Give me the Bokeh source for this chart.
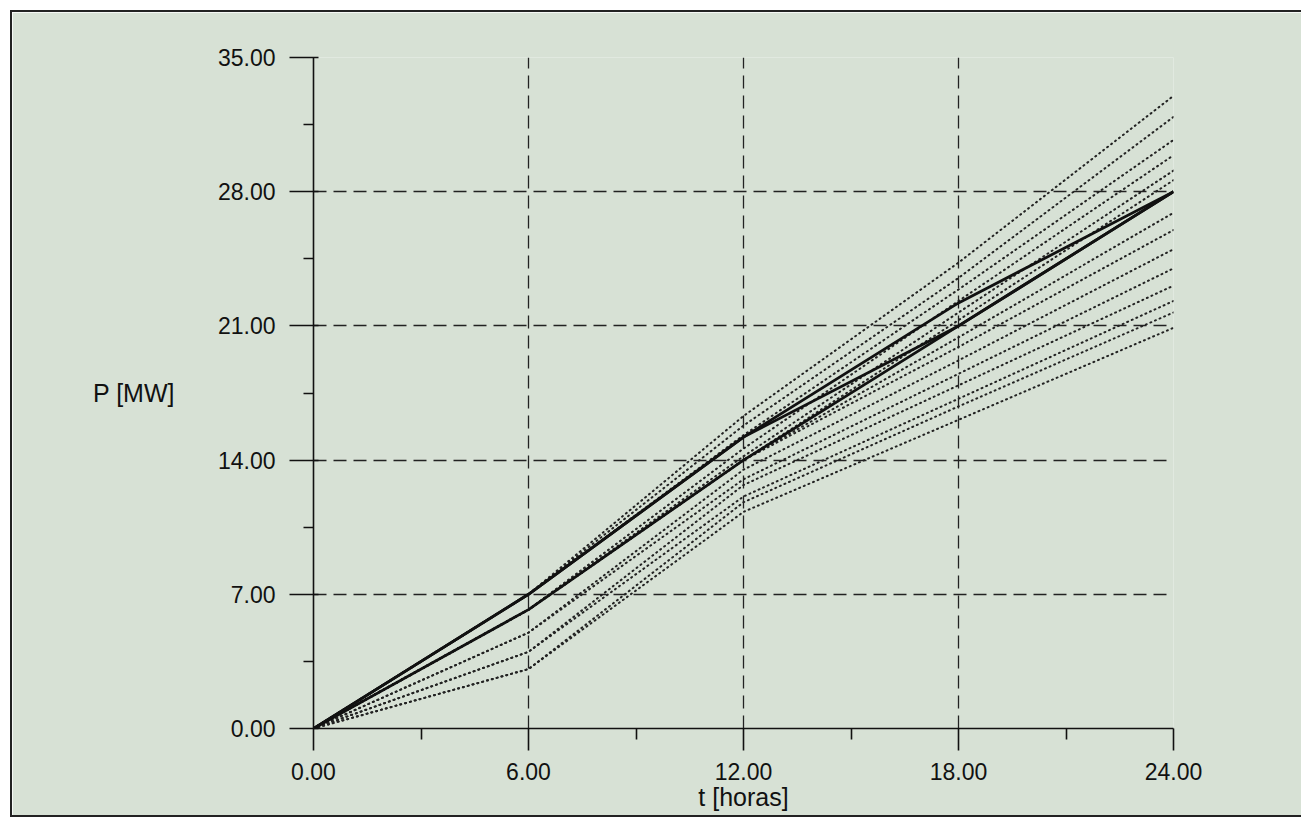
from bokeh.plotting import figure
from bokeh.models import Range1d, FixedTicker, PrintfTickFormatter
from bokeh.embed import file_html
from bokeh.resources import INLINE

# ---- data ----
hours = [0, 6, 12, 18, 24]
x_ticks = [0, 6, 12, 18, 24]
y_ticks = [0, 7, 14, 21, 28, 35]

solid_a = [0.0, 7.0, 15.2, 22.2, 28.0]
solid_b = [0.0, 6.2, 14.0, 21.0, 28.0]
solid_c = [0.0, 7.0, 15.2, 21.0, 28.0]

dot_u1 = [0.0, 7.0, 16.3, 24.3, 33.0]
dot_u2 = [0.0, 7.0, 15.8, 23.5, 31.9]
dot_u3 = [0.0, 7.0, 15.3, 22.9, 30.7]
dot_u4 = [0.0, 6.2, 14.6, 22.3, 29.9]
dot_u5 = [0.0, 6.2, 14.2, 21.7, 29.1]
dot_u6 = [0.0, 6.2, 14.0, 21.3, 28.6]
dot_l1 = [0.0, 6.2, 14.0, 20.4, 26.9]
dot_l2 = [0.0, 6.2, 14.0, 19.9, 26.0]
dot_l3 = [0.0, 5.0, 13.5, 19.2, 25.0]
dot_l4 = [0.0, 5.0, 13.0, 18.5, 24.0]
dot_l5 = [0.0, 4.0, 12.7, 17.9, 23.1]
dot_l6 = [0.0, 4.0, 12.1, 17.2, 22.3]
dot_l7 = [0.0, 3.1, 11.8, 16.8, 21.7]
dot_l8 = [0.0, 3.1, 11.3, 16.1, 20.9]

dotted_series = [dot_u1, dot_u2, dot_u3, dot_u4, dot_u5, dot_u6,
                 dot_l1, dot_l2, dot_l3, dot_l4, dot_l5, dot_l6, dot_l7, dot_l8]
solid_series = [solid_a, solid_b, solid_c]

BG = "#d7e1d5"
FONT = "Liberation Sans"

p = figure(frame_width=860, frame_height=671, output_backend="svg",
           toolbar_location=None,
           x_range=Range1d(0, 24), y_range=Range1d(0, 35),
           min_border_left=301, min_border_right=128, min_border_top=45,
           min_border_bottom=87)
p.background_fill_color = BG
p.border_fill_color = BG
p.outline_line_color = None
p.styles = {"border-top": "2px solid #222", "border-bottom": "2px solid #222",
            "border-left": "2px solid #222", "border-right": "0px none",
            "margin-left": "10px", "margin-top": "10px"}

for s in dotted_series:
    p.line(hours, s, line_color="#222222", line_width=2.0, line_dash="1 4",
           line_cap="round")
for s in solid_series:
    p.line(hours, s, line_color="#111111", line_width=2.8)

# grid
for g in (p.xgrid[0], p.ygrid[0]):
    g.grid_line_color = "#222222"
    g.grid_line_dash = "13 7"
    g.grid_line_width = 1.3
p.xgrid[0].ticker = FixedTicker(ticks=x_ticks)
p.ygrid[0].ticker = FixedTicker(ticks=y_ticks)

# axes
xa = p.xaxis[0]
ya = p.yaxis[0]
xa.ticker = FixedTicker(ticks=x_ticks, minor_ticks=[3, 9, 15, 21])
ya.ticker = FixedTicker(ticks=y_ticks, minor_ticks=[3.5, 10.5, 17.5, 24.5, 31.5])
for ax in (xa, ya):
    ax.formatter = PrintfTickFormatter(format="%.2f")
    ax.axis_line_color = "#111111"
    ax.axis_line_width = 1.6
    ax.major_tick_line_color = "#111111"
    ax.major_tick_line_width = 1.6
    ax.minor_tick_line_color = "#111111"
    ax.minor_tick_line_width = 1.6
    ax.major_label_text_font = FONT
    ax.major_label_text_font_size = "23px"
    ax.major_label_text_color = "#111111"
    ax.axis_label_text_font = FONT
    ax.axis_label_text_font_size = "25px"
    ax.axis_label_text_font_style = "normal"
    ax.axis_label_text_color = "#111111"

xa.axis_label = "t [horas]"
xa.major_tick_out = 22
xa.major_tick_in = 0
xa.minor_tick_out = 11
xa.minor_tick_in = 0
xa.major_label_standoff = 12
xa.axis_label_standoff = 0

ya.axis_label = "P [MW]"
ya.axis_label_orientation = "horizontal"
ya.major_tick_out = 24
ya.major_tick_in = 5
ya.minor_tick_out = 10
ya.minor_tick_in = 0
ya.major_label_standoff = 14
ya.axis_label_standoff = 40

html = file_html(p, INLINE)
html = html.replace("<body>", '<body style="background:%s">' % BG, 1)
open("out.html", "w").write(html)
